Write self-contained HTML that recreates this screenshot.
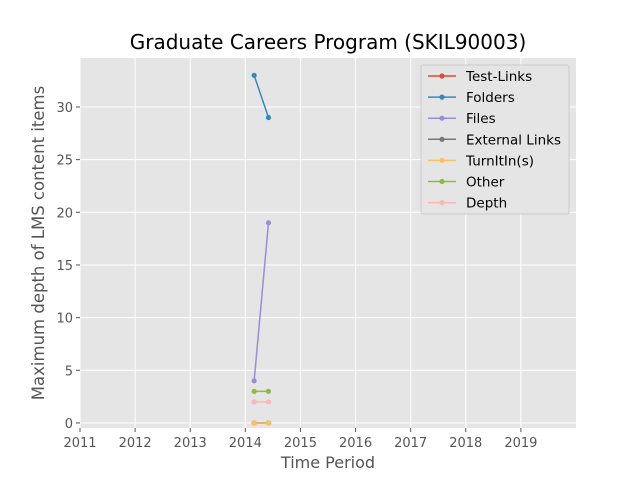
<!DOCTYPE html>
<html><head><meta charset="utf-8"><style>
body{margin:0;background:#fff;font-family:"DejaVu Sans","Liberation Sans",sans-serif}
svg text{font-family:"DejaVu Sans","Liberation Sans",sans-serif}
</style></head><body>
<svg id="chart" width="640" height="480"></svg>
<script>
const seriesNames=["Test-Links","Folders","Files","External Links","TurnItIn(s)","Other","Depth"];
const colors=["#E24A33","#348ABD","#988ED5","#777777","#FBC15E","#8EBA42","#FFB5B8"];
const xDates=[2014.16,2014.42];
const testLinks=[0,0];
const folders=[33,29];
const files=[4,19];
const externalLinks=[0,0];
const turnitin=[0,0];
const other=[3,3];
const depth=[2,2];
const allSeries=[testLinks,folders,files,externalLinks,turnitin,other,depth];
const xTicks=[2011,2012,2013,2014,2015,2016,2017,2018,2019];
const yTicks=[0,5,10,15,20,25,30];

const NS="http://www.w3.org/2000/svg";
const svg=document.getElementById('chart');
const L=80,R=576,T=58,B=428;
const xMin=2011,xMax=2020,yMin=-0.48,yMax=34.65;
const sx=v=>L+(v-xMin)/(xMax-xMin)*(R-L);
const sy=v=>B-(v-yMin)/(yMax-yMin)*(B-T);
function el(tag,attrs,parent){const e=document.createElementNS(NS,tag);for(const k in attrs)e.setAttribute(k,attrs[k]);(parent||svg).appendChild(e);return e;}
const bg=el('rect',{x:L,y:T,width:R-L,height:B-T,fill:'#E5E5E5'});


xTicks.forEach(t=>{
  const x=sx(t);
  const g=el('line',{x1:x,x2:x,y1:T,y2:B,stroke:'#fff','stroke-width':1});
  
  
  el('line',{x1:x,x2:x,y1:B,y2:B+4,stroke:'#555'});
  const tx=el('text',{x:x,y:B+19,'text-anchor':'middle','font-size':13,fill:'#555'});
  tx.textContent=t;
  
  
});
yTicks.forEach(t=>{
  const y=sy(t);
  const g=el('line',{x1:L,x2:R,y1:y,y2:y,stroke:'#fff','stroke-width':1});
  
  
  el('line',{x1:L-4,x2:L,y1:y,y2:y,stroke:'#555'});
  const tx=el('text',{x:L-7,y:y+5,'text-anchor':'end','font-size':13,fill:'#555'});
  tx.textContent=t;
  
  
});
allSeries.forEach((s,i)=>{
  const g=el('g',{});
  
  
  el('polyline',{points:s.map((v,j)=>sx(xDates[j])+','+sy(v)).join(' '),fill:'none',stroke:colors[i],'stroke-width':1.5},g);
  s.forEach((v,j)=>el('circle',{cx:sx(xDates[j]),cy:sy(v),r:2.6,fill:colors[i]},g));
});
const title=el('text',{x:(L+R)/2,y:49,'text-anchor':'middle','font-size':20,fill:'#000'});
title.textContent='Graduate Careers Program (SKIL90003)';


const xl=el('text',{x:(L+R)/2,y:468,'text-anchor':'middle','font-size':16,fill:'#555'});
xl.textContent='Time Period';


const yl=el('text',{x:0,y:0,'text-anchor':'middle','font-size':16.5,fill:'#555',transform:`translate(44,${(T+B)/2}) rotate(-90)`});
yl.textContent='Maximum depth of LMS content items';


const lg=el('g',{});


el('rect',{x:421,y:65,width:148,height:149,fill:'#E5E5E5',stroke:'#ccc',rx:2},lg);
seriesNames.forEach((n,i)=>{
  const y=76+i*21.1;
  const e=el('g',{},lg);
  
  
  el('line',{x1:428,x2:456,y1:y,y2:y,stroke:colors[i],'stroke-width':1.5},e);
  el('circle',{cx:442,cy:y,r:2.6,fill:colors[i]},e);
  const t=el('text',{x:466,y:y+5,'font-size':13.5,fill:'#000'},e);
  t.textContent=n;
});
</script>
</body></html>
